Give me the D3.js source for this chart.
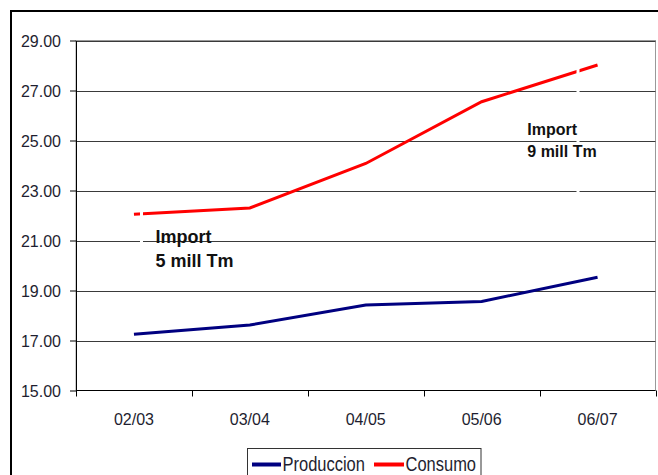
<!DOCTYPE html>
<html>
<head>
<meta charset="utf-8">
<script src="https://cdn.jsdelivr.net/npm/d3@7"></script>
<style>
  html, body { margin: 0; padding: 0; background: #fff; }
  svg { display: block; font-family: "Liberation Sans", Arial, sans-serif; }
</style>
</head>
<body>
<svg id="chart" width="658" height="475"></svg>
<script>
// Sugar production vs consumption by season (million tonnes)
const categories = ["02/03", "03/04", "04/05", "05/06", "06/07"];
const produccion = [17.25, 17.62, 18.42, 18.56, 19.53];
const consumo = [22.05, 22.30, 24.08, 26.55, 28.02];
const yTicks = [15, 17, 19, 21, 23, 25, 27, 29];
const seriesNames = ["Produccion", "Consumo"];
const notes = [
  ["Import", "5 mill Tm"],
  ["Import", "9 mill Tm"]
];

const svg = d3.select("#chart");
const plot = { left: 76, right: 655.5, top: 40.5, bottom: 390.5 };

const x = d3.scaleBand().domain(categories).range([plot.left, plot.right]);
const y = d3.scaleLinear().domain([15, 29]).range([plot.bottom, plot.top]);

// outer frame
svg.append("rect")
  .attr("x", 11).attr("y", 11).attr("width", 700).attr("height", 500)
  .attr("fill", "none").attr("stroke", "#000").attr("stroke-width", 2);

// plot area border
svg.append("rect")
  .attr("x", plot.left).attr("y", plot.top)
  .attr("width", plot.right - plot.left).attr("height", plot.bottom - plot.top)
  .attr("fill", "#fff").attr("stroke", "#999").attr("stroke-width", 1);

// horizontal gridlines
svg.append("g").selectAll("line").data(yTicks.slice(1)).join("line")
  .attr("x1", plot.left).attr("x2", plot.right)
  .attr("y1", d => Math.round(y(d)) + 0.5).attr("y2", d => Math.round(y(d)) + 0.5)
  .attr("stroke", "#3a3a3a").attr("stroke-width", 1);

// y axis
const yAxis = svg.append("g")
  .attr("transform", `translate(${plot.left},0)`)
  .call(d3.axisLeft(y).tickValues(yTicks).tickFormat(d3.format(".2f")).tickSize(6).tickSizeOuter(0));
yAxis.select(".domain").attr("stroke", "#000");
yAxis.selectAll(".tick line").attr("stroke", "#000");
yAxis.selectAll(".tick text")
  .attr("x", -15).attr("dy", "0.36em")
  .attr("font-size", 16).attr("fill", "#1e1e30")
  .attr("font-family", "Liberation Sans, Arial, sans-serif");

// x axis: ticks at category boundaries, labels centred in each band
const xg = svg.append("g").attr("transform", `translate(0,${plot.bottom})`);
xg.append("line").attr("x1", plot.left).attr("x2", plot.right)
  .attr("stroke", "#000");
const bounds = categories.map(c => x(c)).concat([plot.right]);
xg.selectAll("line.tk").data(bounds).join("line").attr("class", "tk")
  .attr("x1", d => Math.round(d) + 0.5).attr("x2", d => Math.round(d) + 0.5)
  .attr("y1", 0).attr("y2", 6).attr("stroke", "#000");
xg.selectAll("text").data(categories).join("text")
  .attr("x", d => x(d) + x.bandwidth() / 2).attr("y", 34)
  .attr("text-anchor", "middle").attr("font-size", 16).attr("fill", "#1e1e30")
  .text(d => d);

// series lines
const line = d3.line()
  .x((d, i) => x(categories[i]) + x.bandwidth() / 2)
  .y(d => y(d));
const colors = ["#000080", "#ff0000"];
[produccion, consumo].forEach((s, k) => {
  svg.append("path").datum(s)
    .attr("d", line)
    .attr("fill", "none")
    .attr("stroke", colors[k])
    .attr("stroke-width", 3);
});

// annotation text boxes: a white edge on one side, bold two-line text
const boxes = [
  { edge: 141.5, e0: 204, e1: 250, size: 18, tx: 155.5, base: 242.7, gap: 24.6 },
  { edge: 578, e0: 62, e1: 200, size: 16, tx: 527.3, base: 135, gap: 22.3 }
];
notes.forEach((n, i) => {
  const b = boxes[i];
  svg.append("line")
    .attr("x1", b.edge).attr("x2", b.edge).attr("y1", b.e0).attr("y2", b.e1)
    .attr("stroke", "#fff").attr("stroke-width", 3);
  svg.append("g").selectAll("text").data(n).join("text")
    .attr("x", b.tx).attr("y", (d, j) => b.base + j * b.gap)
    .attr("font-size", b.size).attr("font-weight", "bold").attr("fill", "#111")
    .text(d => d);
});

// legend
const lg = svg.append("g");
lg.append("rect").attr("x", 247.5).attr("y", 448.5).attr("width", 233.5).attr("height", 40)
  .attr("fill", "#fff").attr("stroke", "#333");
const legendItems = [
  { x0: 252, x1: 281, tx: 282.5 },
  { x0: 374, x1: 404, tx: 405.5 }
];
seriesNames.forEach((name, i) => {
  const it = legendItems[i];
  lg.append("line").attr("x1", it.x0).attr("x2", it.x1).attr("y1", 464.5).attr("y2", 464.5)
    .attr("stroke", colors[i]).attr("stroke-width", 4);
  lg.append("text")
    .attr("transform", `translate(${it.tx},471) scale(1,1.17)`)
    .attr("font-size", 16.5).attr("fill", "#1e1e30")
    .text(name);
});
</script>
</body>
</html>
